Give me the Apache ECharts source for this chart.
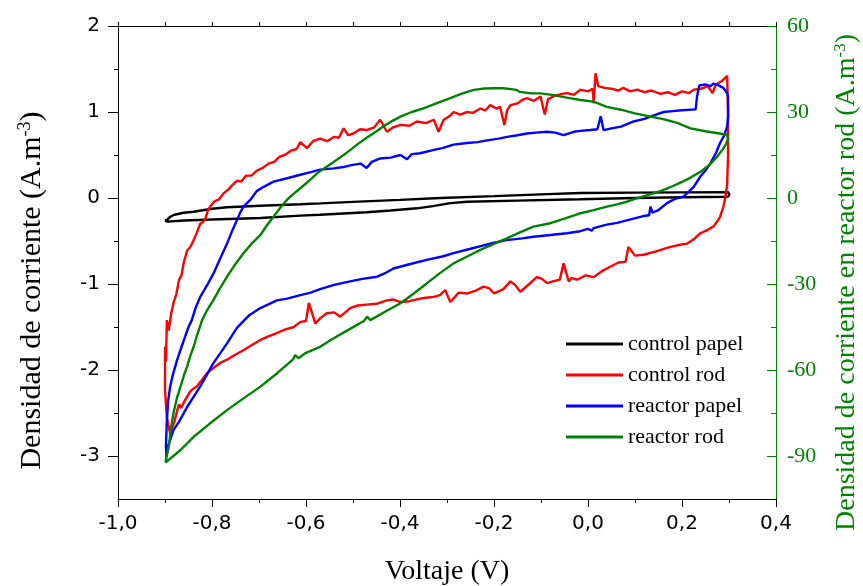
<!DOCTYPE html>
<html>
<head>
<meta charset="utf-8">
<script src="https://cdn.jsdelivr.net/npm/echarts@6/dist/echarts.min.js"></script>
<style>
html,body{margin:0;padding:0;background:#fff;}
#chart{width:863px;height:586px;}
</style>
</head>
<body>
<div id="chart"></div>
<script>
// ---- Data: [voltage (V), current density] in path order ----
const seriesNames = ['control papel', 'control rod', 'reactor papel', 'reactor rod'];
const seriesColors = ['#000000', '#ff0000', '#0000ff', '#008000'];
const xTickLabels = ['-1,0', '-0,8', '-0,6', '-0,4', '-0,2', '0,0', '0,2', '0,4'];

const controlPapel = [
[-0.900,-0.262],[-0.895,-0.250],[-0.888,-0.215],[-0.880,-0.195],[-0.860,-0.172],[-0.839,-0.160],[-0.800,-0.125],[-0.768,-0.108],[-0.697,-0.090],[-0.612,-0.072],[-0.570,-0.062],[-0.500,-0.045],[-0.400,-0.022],[-0.314,0.000],[-0.200,0.022],[-0.100,0.042],[-0.016,0.058],[0.100,0.063],[0.200,0.065],[0.298,0.068],[0.301,0.040],[0.298,0.015],[0.200,0.008],[0.100,0.000],[-0.016,-0.015],[-0.150,-0.030],[-0.257,-0.043],[-0.293,-0.060],[-0.330,-0.095],[-0.364,-0.120],[-0.420,-0.145],[-0.471,-0.166],[-0.570,-0.195],[-0.612,-0.205],[-0.697,-0.232],[-0.800,-0.250],[-0.860,-0.262],[-0.895,-0.275],[-0.900,-0.262]
];

const controlRod = [
[-0.900,-2.23],[-0.900,-1.73],[-0.898,-1.90],[-0.896,-1.42],[-0.892,-1.54],[-0.887,-1.35],[-0.882,-1.22],[-0.876,-1.12],[-0.870,-0.95],[-0.865,-0.90],[-0.860,-0.75],[-0.853,-0.61],[-0.846,-0.57],[-0.839,-0.49],[-0.832,-0.40],[-0.825,-0.30],[-0.819,-0.28],[-0.814,-0.24],[-0.809,-0.15],[-0.804,-0.10],[-0.795,-0.04],[-0.786,-0.02],[-0.776,0.05],[-0.765,0.10],[-0.755,0.16],[-0.747,0.20],[-0.738,0.19],[-0.728,0.26],[-0.716,0.26],[-0.704,0.32],[-0.692,0.35],[-0.680,0.40],[-0.668,0.42],[-0.656,0.48],[-0.645,0.50],[-0.632,0.55],[-0.620,0.57],[-0.612,0.65],[-0.598,0.58],[-0.585,0.66],[-0.570,0.69],[-0.555,0.66],[-0.541,0.71],[-0.530,0.70],[-0.520,0.81],[-0.510,0.73],[-0.499,0.75],[-0.485,0.80],[-0.471,0.79],[-0.455,0.82],[-0.442,0.91],[-0.428,0.77],[-0.415,0.82],[-0.399,0.85],[-0.380,0.84],[-0.364,0.89],[-0.345,0.87],[-0.328,0.91],[-0.318,0.77],[-0.307,0.91],[-0.295,0.95],[-0.286,1.00],[-0.272,0.97],[-0.257,1.00],[-0.245,0.99],[-0.229,1.04],[-0.218,1.02],[-0.208,1.08],[-0.195,1.04],[-0.187,1.06],[-0.178,0.85],[-0.172,1.02],[-0.165,1.08],[-0.150,1.10],[-0.140,1.14],[-0.130,1.16],[-0.115,1.13],[-0.101,1.18],[-0.092,0.97],[-0.085,1.15],[-0.070,1.19],[-0.055,1.21],[-0.045,1.22],[-0.030,1.20],[-0.016,1.26],[0.000,1.24],[0.010,1.27],[0.012,1.10],[0.016,1.45],[0.022,1.30],[0.035,1.28],[0.050,1.27],[0.065,1.25],[0.075,1.28],[0.090,1.24],[0.105,1.26],[0.120,1.23],[0.135,1.25],[0.154,1.21],[0.170,1.23],[0.185,1.20],[0.200,1.24],[0.215,1.22],[0.225,1.26],[0.240,1.27],[0.255,1.30],[0.265,1.22],[0.272,1.32],[0.285,1.36],[0.296,1.42],[0.298,1.00],[0.298,0.50],[0.296,0.15],[0.292,0.00],[0.288,-0.10],[0.281,-0.22],[0.274,-0.28],[0.267,-0.33],[0.255,-0.37],[0.239,-0.41],[0.225,-0.48],[0.211,-0.53],[0.190,-0.55],[0.168,-0.58],[0.145,-0.62],[0.118,-0.66],[0.100,-0.67],[0.086,-0.57],[0.080,-0.74],[0.065,-0.75],[0.047,-0.80],[0.030,-0.85],[0.012,-0.92],[-0.005,-0.90],[-0.023,-0.95],[-0.035,-0.93],[-0.041,-0.97],[-0.052,-0.76],[-0.060,-0.95],[-0.075,-0.97],[-0.087,-0.99],[-0.098,-0.94],[-0.109,-0.92],[-0.125,-1.00],[-0.144,-1.09],[-0.155,-1.01],[-0.165,-0.97],[-0.180,-1.06],[-0.200,-1.11],[-0.210,-1.05],[-0.222,-1.03],[-0.240,-1.08],[-0.257,-1.11],[-0.275,-1.10],[-0.293,-1.21],[-0.304,-1.07],[-0.315,-1.13],[-0.328,-1.15],[-0.345,-1.16],[-0.357,-1.17],[-0.380,-1.20],[-0.399,-1.21],[-0.415,-1.18],[-0.428,-1.19],[-0.450,-1.23],[-0.471,-1.24],[-0.490,-1.25],[-0.506,-1.28],[-0.527,-1.38],[-0.540,-1.33],[-0.556,-1.34],[-0.570,-1.40],[-0.580,-1.46],[-0.594,-1.22],[-0.600,-1.43],[-0.612,-1.44],[-0.626,-1.50],[-0.645,-1.53],[-0.662,-1.57],[-0.680,-1.61],[-0.697,-1.65],[-0.715,-1.71],[-0.733,-1.77],[-0.750,-1.82],[-0.768,-1.88],[-0.780,-1.91],[-0.793,-1.96],[-0.811,-2.04],[-0.822,-2.12],[-0.832,-2.19],[-0.845,-2.24],[-0.853,-2.31],[-0.860,-2.38],[-0.866,-2.44],[-0.870,-2.40],[-0.874,-2.47],[-0.880,-2.60],[-0.885,-2.68],[-0.889,-2.74],[-0.896,-2.55],[-0.900,-2.23]
];

const reactorPapel = [
[-0.897,-3.01],[-0.898,-2.89],[-0.896,-2.58],[-0.893,-2.35],[-0.889,-2.19],[-0.882,-2.03],[-0.874,-1.88],[-0.866,-1.75],[-0.857,-1.61],[-0.850,-1.50],[-0.843,-1.42],[-0.835,-1.28],[-0.825,-1.15],[-0.811,-1.02],[-0.797,-0.88],[-0.783,-0.71],[-0.768,-0.53],[-0.757,-0.38],[-0.747,-0.26],[-0.740,-0.17],[-0.733,-0.10],[-0.718,-0.02],[-0.705,0.08],[-0.690,0.13],[-0.669,0.19],[-0.640,0.23],[-0.612,0.27],[-0.590,0.30],[-0.570,0.33],[-0.541,0.345],[-0.520,0.36],[-0.506,0.38],[-0.484,0.40],[-0.471,0.35],[-0.460,0.42],[-0.442,0.46],[-0.420,0.47],[-0.399,0.50],[-0.385,0.45],[-0.375,0.51],[-0.357,0.52],[-0.328,0.56],[-0.310,0.58],[-0.286,0.62],[-0.257,0.64],[-0.235,0.65],[-0.215,0.67],[-0.190,0.69],[-0.172,0.71],[-0.150,0.73],[-0.130,0.75],[-0.110,0.76],[-0.087,0.77],[-0.070,0.76],[-0.052,0.73],[-0.030,0.77],[-0.016,0.78],[0.005,0.79],[0.020,0.80],[0.027,0.95],[0.033,0.79],[0.050,0.81],[0.070,0.83],[0.097,0.89],[0.120,0.92],[0.140,0.96],[0.161,1.00],[0.180,1.01],[0.200,1.02],[0.229,1.03],[0.232,1.18],[0.237,1.31],[0.250,1.32],[0.260,1.30],[0.267,1.33],[0.278,1.31],[0.288,1.28],[0.296,1.22],[0.298,1.18],[0.298,0.95],[0.296,0.83],[0.290,0.73],[0.281,0.64],[0.272,0.52],[0.260,0.40],[0.250,0.32],[0.239,0.25],[0.225,0.13],[0.210,0.05],[0.203,0.015],[0.185,-0.01],[0.168,-0.06],[0.150,-0.14],[0.137,-0.17],[0.133,-0.10],[0.130,-0.20],[0.118,-0.21],[0.097,-0.24],[0.062,-0.29],[0.040,-0.31],[0.012,-0.35],[0.008,-0.38],[0.000,-0.36],[-0.020,-0.39],[-0.045,-0.41],[-0.080,-0.43],[-0.116,-0.45],[-0.140,-0.47],[-0.173,-0.49],[-0.200,-0.52],[-0.222,-0.55],[-0.250,-0.59],[-0.286,-0.64],[-0.310,-0.68],[-0.343,-0.72],[-0.380,-0.77],[-0.414,-0.82],[-0.430,-0.87],[-0.449,-0.915],[-0.480,-0.94],[-0.506,-0.97],[-0.540,-1.01],[-0.570,-1.06],[-0.590,-1.10],[-0.612,-1.13],[-0.640,-1.17],[-0.662,-1.19],[-0.697,-1.28],[-0.720,-1.36],[-0.747,-1.51],[-0.768,-1.69],[-0.797,-1.92],[-0.825,-2.19],[-0.853,-2.43],[-0.870,-2.60],[-0.882,-2.70],[-0.896,-2.93],[-0.897,-3.01]
];

// reactor rod is on the right axis (A.m-3, scale x30)
const reactorRod = [
[-0.899,-92.3],[-0.895,-89.0],[-0.892,-86.8],[-0.887,-80.0],[-0.882,-75.1],[-0.875,-70.0],[-0.867,-65.8],[-0.860,-62.0],[-0.853,-58.8],[-0.846,-55.0],[-0.839,-51.9],[-0.832,-48.0],[-0.821,-42.6],[-0.810,-39.0],[-0.797,-35.6],[-0.783,-31.5],[-0.768,-27.4],[-0.750,-23.0],[-0.733,-19.3],[-0.715,-15.8],[-0.697,-12.9],[-0.683,-9.5],[-0.669,-6.5],[-0.655,-3.5],[-0.641,-0.7],[-0.626,1.5],[-0.612,3.4],[-0.590,6.5],[-0.577,8.5],[-0.560,10.5],[-0.541,12.6],[-0.520,15.0],[-0.506,16.7],[-0.490,18.8],[-0.471,21.0],[-0.450,23.3],[-0.435,25.0],[-0.415,27.0],[-0.399,28.4],[-0.375,30.0],[-0.350,31.3],[-0.320,33.2],[-0.293,34.8],[-0.270,36.3],[-0.243,37.7],[-0.220,38.2],[-0.201,38.3],[-0.180,38.3],[-0.160,37.9],[-0.152,37.7],[-0.145,37.0],[-0.141,36.5],[-0.120,36.5],[-0.101,36.5],[-0.073,35.9],[-0.045,35.0],[-0.016,34.2],[0.012,33.6],[0.040,31.8],[0.070,30.8],[0.100,29.5],[0.133,28.4],[0.160,27.5],[0.190,26.2],[0.218,24.3],[0.250,23.3],[0.280,22.5],[0.296,22.0],
[0.298,20.5],[0.294,19.0],[0.289,17.5],[0.282,16.0],[0.275,14.5],[0.260,11.8],[0.240,9.2],[0.220,7.3],[0.200,5.6],[0.180,4.1],[0.154,2.4],[0.130,1.2],[0.100,-0.3],[0.080,-1.4],[0.062,-2.2],[0.040,-3.0],[0.012,-4.2],[-0.020,-5.5],[-0.050,-7.2],[-0.080,-8.8],[-0.116,-10.0],[-0.145,-12.0],[-0.173,-14.1],[-0.200,-16.0],[-0.229,-18.1],[-0.257,-20.4],[-0.286,-22.8],[-0.315,-26.2],[-0.343,-29.8],[-0.370,-33.2],[-0.399,-36.7],[-0.430,-39.5],[-0.463,-42.6],[-0.470,-41.4],[-0.476,-42.8],[-0.510,-46.0],[-0.541,-48.9],[-0.570,-51.9],[-0.600,-54.0],[-0.616,-55.9],[-0.623,-54.8],[-0.628,-56.4],[-0.662,-61.2],[-0.697,-65.8],[-0.733,-69.9],[-0.768,-74.0],[-0.804,-78.6],[-0.839,-83.3],[-0.867,-87.9],[-0.899,-92.3]
];

const allData = [controlPapel, controlRod, reactorPapel, reactorRod];

const SERIF = 'Liberation Serif';
const SANS = 'DejaVu Sans';
const GREEN = '#008000';

const chart = echarts.init(document.getElementById('chart'), null, {renderer: 'canvas'});

const option = {
  animation: false,
  backgroundColor: '#ffffff',
  grid: [
    {left: 118, right: 87, top: 26, bottom: 87, outerBoundsMode: 'none', containLabel: false},
    {left: 118, right: 87, top: 26, bottom: 130, outerBoundsMode: 'none', containLabel: false}
  ],
  legend: {
    orient: 'vertical',
    left: 561,
    top: 328,
    icon: 'rect',
    itemWidth: 57,
    itemHeight: 3,
    itemGap: 9,
    textStyle: {fontFamily: SERIF, fontSize: 22, color: '#000'},
    data: seriesNames
  },
  xAxis: [
    {
      gridIndex: 0, type: 'value', position: 'bottom',
      min: -1, max: 0.4, interval: 0.2,
      axisLine: {show: true, onZero: false, lineStyle: {color: '#000', width: 1}},
      axisTick: {show: true, inside: false, length: 8, lineStyle: {color: '#000'}},
      minorTick: {show: true, splitNumber: 2, length: 4, lineStyle: {color: '#000'}},
      splitLine: {show: false},
      axisLabel: {
        fontFamily: SANS, fontSize: 20, color: '#000', margin: 15,
        formatter: function (v) { return xTickLabels[Math.round((v + 1) / 0.2)]; }
      },
      name: 'Voltaje (V)', nameLocation: 'middle', nameGap: 59,
      nameTextStyle: {fontFamily: SERIF, fontSize: 28, color: '#000'}
    },
    {
      gridIndex: 0, type: 'value', position: 'top',
      min: -1, max: 0.4, interval: 0.2,
      axisLine: {show: true, onZero: false, lineStyle: {color: '#000', width: 1}},
      axisTick: {show: true, inside: false, length: 4, lineStyle: {color: '#000'}},
      minorTick: {show: true, splitNumber: 2, length: 4, lineStyle: {color: '#000'}},
      splitLine: {show: false},
      axisLabel: {show: false}
    },
    {
      gridIndex: 1, type: 'value', show: false, min: -1, max: 0.4
    }
  ],
  yAxis: [
    {
      gridIndex: 0, type: 'value', position: 'left',
      min: -3.5, max: 2, interval: 0.5,
      axisLine: {show: true, onZero: false, lineStyle: {color: '#000', width: 1}},
      axisTick: {show: false}, axisLabel: {show: false}, splitLine: {show: false},
      name: '{a|Densidad de corriente (A.m}{s|-3}{a|)}',
      nameLocation: 'middle', nameRotate: 90, nameGap: 70,
      nameTextStyle: {
        color: '#000', padding: [0, 56, 0, 0],
        rich: {
          a: {fontFamily: SERIF, fontSize: 30, color: '#000', lineHeight: 32},
          s: {fontFamily: SERIF, fontSize: 18, color: '#000', verticalAlign: 'top', lineHeight: 32}
        }
      }
    },
    {
      gridIndex: 0, type: 'value', position: 'right',
      min: -105, max: 60, interval: 15,
      axisLine: {show: true, onZero: false, lineStyle: {color: GREEN, width: 1}},
      axisTick: {show: false}, axisLabel: {show: false}, splitLine: {show: false},
      name: '{a|Densidad de corriente en reactor rod (A.m}{s|-3}{a|)}',
      nameLocation: 'middle', nameRotate: 90, nameGap: 56,
      nameTextStyle: {
        color: GREEN, padding: [0, 40, 0, 0],
        rich: {
          a: {fontFamily: SERIF, fontSize: 28, color: GREEN, lineHeight: 30},
          s: {fontFamily: SERIF, fontSize: 17, color: GREEN, verticalAlign: 'top', lineHeight: 30}
        }
      }
    },
    {
      gridIndex: 1, type: 'value', position: 'left',
      min: -3, max: 2, interval: 1,
      axisLine: {show: false, onZero: false},
      axisTick: {show: true, inside: false, length: 10, lineStyle: {color: '#000'}},
      minorTick: {show: true, splitNumber: 2, length: 4, lineStyle: {color: '#000'}},
      splitLine: {show: false},
      axisLabel: {fontFamily: SANS, fontSize: 20, color: '#000', margin: 18}
    },
    {
      gridIndex: 1, type: 'value', position: 'right',
      min: -90, max: 60, interval: 30,
      axisLine: {show: false, onZero: false},
      axisTick: {show: true, inside: true, length: 9, lineStyle: {color: GREEN}},
      minorTick: {show: true, splitNumber: 2, length: 5, lineStyle: {color: GREEN}},
      splitLine: {show: false},
      axisLabel: {fontFamily: SERIF, fontSize: 22, color: GREEN, margin: 11}
    }
  ],
  series: allData.map(function (d, i) {
    return {
      name: seriesNames[i],
      type: 'line',
      xAxisIndex: 0,
      yAxisIndex: i === 3 ? 1 : 0,
      data: d,
      symbol: 'none',
      showSymbol: false,
      smooth: false,
      clip: false,
      color: seriesColors[i],
      lineStyle: {color: seriesColors[i], width: 2.4},
      z: 2 + i
    };
  })
};

chart.setOption(option);
</script>
</body>
</html>
